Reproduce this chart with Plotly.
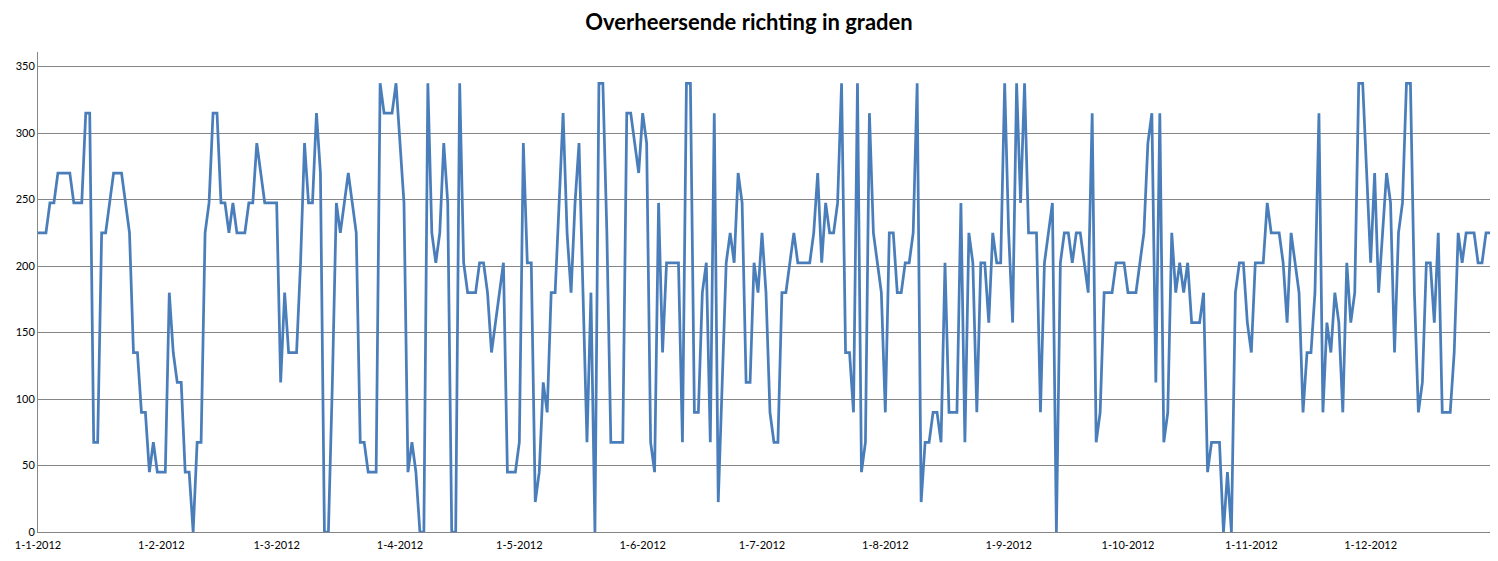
import pandas as pd
import plotly.graph_objects as go

# dagelijkse overheersende windrichting (graden), 2012
jan = [225, 225, 225, 247.5, 247.5, 270, 270, 270, 270, 247.5, 247.5, 247.5, 315, 315, 67.5, 67.5,
       225, 225, 247.5, 270, 270, 270, 247.5, 225, 135, 135, 90, 90, 45, 67.5, 45]
feb = [45, 45, 180, 135, 112.5, 112.5, 45, 45, 0, 67.5, 67.5, 225, 247.5, 315, 315, 247.5, 247.5,
       225, 247.5, 225, 225, 225, 247.5, 247.5, 292.5, 270, 247.5, 247.5, 247.5]
mar = [247.5, 112.5, 180, 135, 135, 135, 202.5, 292.5, 247.5, 247.5, 315, 270, 0, 0, 112.5, 247.5,
       225, 247.5, 270, 247.5, 225, 67.5, 67.5, 45, 45, 45, 337.5, 315, 315, 315, 337.5]
apr = [292.5, 247.5, 45, 67.5, 45, 0, 0, 337.5, 225, 202.5, 225, 292.5, 247.5, 0, 0, 337.5, 202.5,
       180, 180, 180, 202.5, 202.5, 180, 135, 157.5, 180, 202.5, 45, 45, 45]
may = [67.5, 292.5, 202.5, 202.5, 22.5, 45, 112.5, 90, 180, 180, 247.5, 315, 225, 180, 247.5, 292.5,
       180, 67.5, 180, 0, 337.5, 337.5, 225, 67.5, 67.5, 67.5, 67.5, 315, 315, 292.5, 270]
jun = [315, 292.5, 67.5, 45, 247.5, 135, 202.5, 202.5, 202.5, 202.5, 67.5, 337.5, 337.5, 90, 90,
       180, 202.5, 67.5, 315, 22.5, 112.5, 202.5, 225, 202.5, 270, 247.5, 112.5, 112.5, 202.5, 180]
jul = [225, 180, 90, 67.5, 67.5, 180, 180, 202.5, 225, 202.5, 202.5, 202.5, 202.5, 225, 270, 202.5,
       247.5, 225, 225, 247.5, 337.5, 135, 135, 90, 337.5, 45, 67.5, 315, 225, 202.5, 180]
aug = [90, 225, 225, 180, 180, 202.5, 202.5, 225, 337.5, 22.5, 67.5, 67.5, 90, 90, 67.5, 202.5,
       90, 90, 90, 247.5, 67.5, 225, 202.5, 90, 202.5, 202.5, 157.5, 225, 202.5, 202.5, 337.5]
sep = [225, 157.5, 337.5, 247.5, 337.5, 225, 225, 225, 90, 202.5, 225, 247.5, 0, 202.5, 225, 225,
       202.5, 225, 225, 202.5, 180, 315, 67.5, 90, 180, 180, 180, 202.5, 202.5, 202.5]
okt = [180, 180, 180, 202.5, 225, 292.5, 315, 112.5, 315, 67.5, 90, 225, 180, 202.5, 180, 202.5,
       157.5, 157.5, 157.5, 180, 45, 67.5, 67.5, 67.5, 0, 45, 0, 180, 202.5, 202.5, 157.5]
nov = [135, 202.5, 202.5, 202.5, 247.5, 225, 225, 225, 202.5, 157.5, 225, 202.5, 180, 90, 135, 135,
       180, 315, 90, 157.5, 135, 180, 157.5, 90, 202.5, 157.5, 180, 337.5, 337.5, 270]
dec = [202.5, 270, 180, 225, 270, 247.5, 135, 225, 247.5, 337.5, 337.5, 180, 90, 112.5, 202.5, 202.5,
       157.5, 225, 90, 90, 90, 135, 225, 202.5, 225, 225, 225, 202.5, 202.5, 225, 225]

richting = jan + feb + mar + apr + may + jun + jul + aug + sep + okt + nov + dec
dagen = pd.date_range("2012-01-01", periods=len(richting), freq="D")

fig = go.Figure()
fig.add_trace(go.Scatter(x=dagen, y=richting, mode="lines",
                         line=dict(color="#4A7EBB", width=2.75), showlegend=False))

# pagina heeft 8px body-marge, dus figuur iets kleiner
fig.update_layout(
    width=1482, height=545,
    margin=dict(l=30, r=0, t=44, b=21),
    paper_bgcolor="white", plot_bgcolor="white",
    font=dict(family="Lato, Carlito, sans-serif", size=11, color="#000000"),
    title=dict(text="<b>Overheersende richting in graden</b>", x=0.5, xref="container",
               y=0.974, yref="container", yanchor="middle",
               font=dict(size=22, family="Lato, Carlito, sans-serif", color="#000000")),
)
fig.update_xaxes(range=["2012-01-01", "2012-12-31"], tick0="2012-01-01", dtick="M1",
                 tickformat="%-d-%-m-%Y", showgrid=False, showline=True, linecolor="#868686",
                 linewidth=1, ticks="", zeroline=False, tickfont=dict(size=11),
                 ticklabelstandoff=3, automargin=False)
fig.update_yaxes(range=[0, 361], tickvals=[0, 50, 100, 150, 200, 250, 300, 350],
                 showgrid=True, gridcolor="#868686", gridwidth=1, showline=True,
                 linecolor="#868686", linewidth=1, zeroline=False, ticks="",
                 tickfont=dict(size=11), ticklabelstandoff=0, automargin=False)

fig.write_html("out.html")
